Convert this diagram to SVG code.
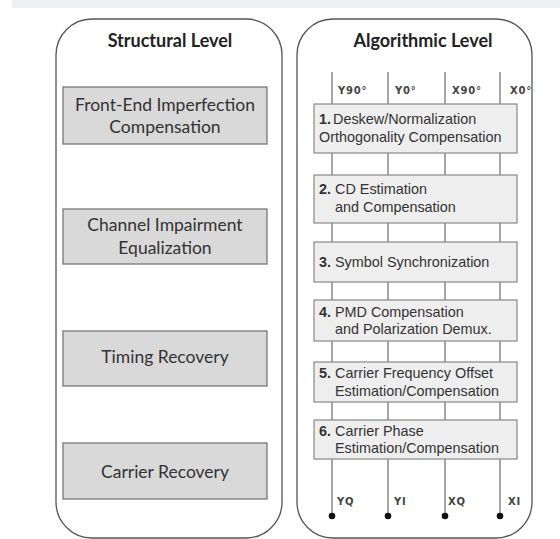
<svg xmlns="http://www.w3.org/2000/svg" width="560" height="539" viewBox="0 0 560 539">
<style>
.panel{fill:#fff;stroke:#555;stroke-width:1.3}
.sbox{fill:#d9d9d9;stroke:#777;stroke-width:1.3}
.abox{fill:#eeeeee;stroke:#888;stroke-width:1.2}
.title{font-family:Lato,"Open Sans","Liberation Sans",sans-serif;font-weight:bold;font-size:18px;fill:#222;text-anchor:middle}
.stxt{font-family:Lato,"Open Sans","Liberation Sans",sans-serif;font-size:17.5px;fill:#333;text-anchor:middle}
.atxt{font-family:"Liberation Sans",Arial,sans-serif;font-size:14.4px;fill:#333}
.num{font-weight:bold}
.lbl{font-family:"DejaVu Sans",sans-serif;font-size:10px;font-weight:bold;fill:#444;letter-spacing:0.8px}
.wire{stroke:#777;stroke-width:1.3;fill:none}
.dot{fill:#111}
</style>
<rect x="0" y="0" width="560" height="539" fill="#fff"/>
<rect x="12" y="0" width="548" height="8" fill="#eef0f4"/>
<g id="structural-panel">
<rect class="panel" x="56" y="19" width="226" height="519" rx="36" ry="36"/>
<text class="title" x="170" y="47">Structural Level</text>
</g>
<g id="s-front-end">
<rect class="sbox" x="63" y="87" width="204" height="57"/>
<text class="stxt" x="165" y="111">Front-End Imperfection</text>
<text class="stxt" x="165" y="133">Compensation</text>
</g>
<g id="s-channel">
<rect class="sbox" x="63" y="209" width="204" height="55"/>
<text class="stxt" x="165" y="231">Channel Impairment</text>
<text class="stxt" x="165" y="254">Equalization</text>
</g>
<g id="s-timing">
<rect class="sbox" x="63" y="331" width="204" height="55"/>
<text class="stxt" x="165" y="363">Timing Recovery</text>
</g>
<g id="s-carrier">
<rect class="sbox" x="63" y="443" width="204" height="56"/>
<text class="stxt" x="165" y="478">Carrier Recovery</text>
</g>
<g id="algorithmic-panel">
<rect class="panel" x="297" y="19" width="235" height="519" rx="36" ry="36"/>
<text class="title" x="423" y="47">Algorithmic Level</text>
</g>
<g id="connectors">
<line class="wire" x1="332" y1="72" x2="332" y2="516"/>
<line class="wire" x1="388" y1="72" x2="388" y2="516"/>
<line class="wire" x1="445" y1="72" x2="445" y2="516"/>
<line class="wire" x1="500" y1="72" x2="500" y2="516"/>
<circle class="dot" cx="332" cy="516" r="3.3"/>
<circle class="dot" cx="388" cy="516" r="3.3"/>
<circle class="dot" cx="445" cy="516" r="3.3"/>
<circle class="dot" cx="500" cy="516" r="3.3"/>
<text class="lbl" x="338" y="94">Y90°</text>
<text class="lbl" x="395" y="94">Y0°</text>
<text class="lbl" x="452" y="94">X90°</text>
<text class="lbl" x="510" y="94">X0°</text>
<text class="lbl" x="337" y="505">YQ</text>
<text class="lbl" x="394" y="505">YI</text>
<text class="lbl" x="448" y="505">XQ</text>
<text class="lbl" x="508" y="505">XI</text>
</g>
<g id="a-1">
<rect class="abox" x="314" y="104" width="203" height="49"/>
<text class="atxt num" x="319" y="124">1.</text>
<text class="atxt" x="333" y="124">Deskew/Normalization</text>
<text class="atxt" x="319" y="142">Orthogonality Compensation</text>
</g>
<g id="a-2">
<rect class="abox" x="314" y="175" width="203" height="48"/>
<text class="atxt num" x="319" y="194">2.</text>
<text class="atxt" x="335" y="194">CD Estimation</text>
<text class="atxt" x="335" y="212">and Compensation</text>
</g>
<g id="a-3">
<rect class="abox" x="314" y="242" width="203" height="40"/>
<text class="atxt num" x="319" y="267">3.</text>
<text class="atxt" x="335" y="267">Symbol Synchronization</text>
</g>
<g id="a-4">
<rect class="abox" x="314" y="300" width="203" height="41"/>
<text class="atxt num" x="319" y="317">4.</text>
<text class="atxt" x="335" y="317">PMD Compensation</text>
<text class="atxt" x="335" y="334">and Polarization  Demux.</text>
</g>
<g id="a-5">
<rect class="abox" x="314" y="362" width="203" height="40"/>
<text class="atxt num" x="319" y="378">5.</text>
<text class="atxt" x="335" y="378">Carrier Frequency Offset</text>
<text class="atxt" x="335" y="396">Estimation/Compensation</text>
</g>
<g id="a-6">
<rect class="abox" x="314" y="420" width="203" height="39"/>
<text class="atxt num" x="319" y="436">6.</text>
<text class="atxt" x="335" y="436">Carrier Phase</text>
<text class="atxt" x="335" y="453">Estimation/Compensation</text>
</g>
</svg>
